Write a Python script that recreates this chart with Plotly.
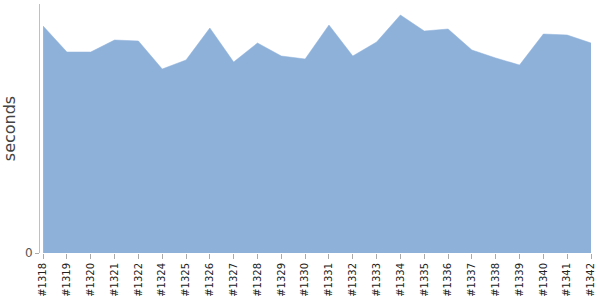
import plotly.graph_objects as go

builds = ["#1318", "#1319", "#1320", "#1321", "#1322", "#1324", "#1325", "#1326",
          "#1327", "#1328", "#1329", "#1330", "#1331", "#1332", "#1333", "#1334",
          "#1335", "#1336", "#1337", "#1338", "#1339", "#1340", "#1341", "#1342"]
seconds = [227, 201, 201, 213, 212, 184, 193, 225, 191, 210, 197, 194,
           228, 197, 211, 238, 222, 224, 203, 195, 188, 219, 218, 210]

fig = go.Figure()
fig.add_trace(go.Scatter(
    x=builds, y=seconds, mode="lines", fill="tozeroy",
    line=dict(color="#8EB1DA", width=0.5),
    fillcolor="#8EB1DA", hoverinfo="x+y",
))

fig.update_layout(
    width=600, height=300,
    margin=dict(l=40, r=9, t=4, b=47),
    paper_bgcolor="white", plot_bgcolor="white",
    showlegend=False,
    font=dict(family="DejaVu Sans", color="#333333"),
)
fig.update_xaxes(
    type="category", range=[-0.13, 23],
    showgrid=False, showline=False, zeroline=False,
    ticks="outside", ticklen=5, tickcolor="#aaaaaa",
    tickangle=-90, tickfont=dict(size=10, color="#222222"),
)
fig.update_yaxes(
    range=[0, 249], tickvals=[0], ticktext=["0"],
    showgrid=False, zeroline=False,
    showline=True, linecolor="#c0c0c0", linewidth=1,
    ticks="outside", ticklen=4, tickcolor="#aaaaaa",
    tickfont=dict(size=12, color="#555555"),
    title=dict(text="seconds", font=dict(size=16, color="#444444"), standoff=6),
)

fig.write_html("out.html")
